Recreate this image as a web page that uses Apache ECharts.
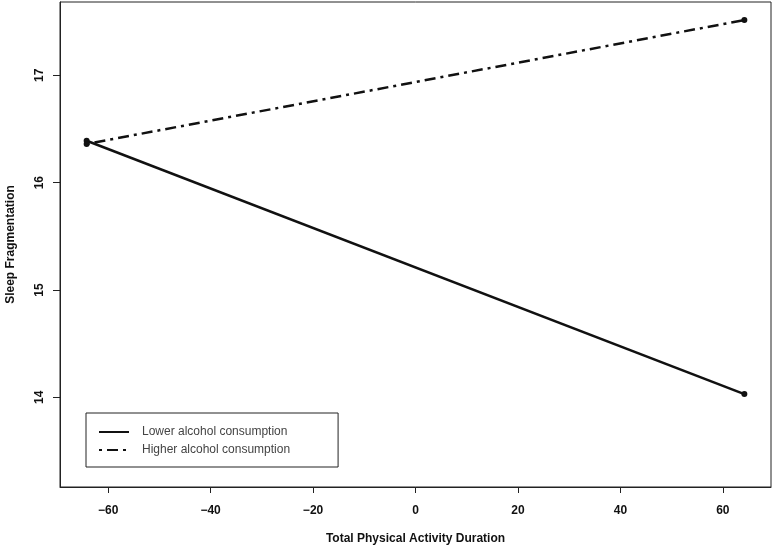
<!DOCTYPE html>
<html>
<head>
<meta charset="utf-8">
<script src="https://cdn.jsdelivr.net/npm/echarts@6/dist/echarts.min.js"></script>
<style>
  html, body { margin: 0; padding: 0; background: #fff; }
  #chart { width: 776px; height: 549px; }
</style>
</head>
<body>
<div id="chart"></div>
<script>
// values
const groups = ['Lower alcohol consumption', 'Higher alcohol consumption'];
const activity = [-64.2, 64.2];
const lowerFrag = [16.39, 14.03];
const higherFrag = [16.36, 17.515];
const xTicks = [-60, -40, -20, 0, 20, 40, 60];
const yTicks = [14, 15, 16, 17];

const font = '"Liberation Sans", Arial, Helvetica, sans-serif';

function fmtNum(v) {
    return v < 0 ? '\u2212' + Math.abs(v) : String(v);
}

function getOption() {
    let option = {
        animation: false,
        backgroundColor: '#fff',
        textStyle: { fontFamily: font },
        grid: {
            show: true,
            left: 60,
            top: 2,
            right: 5,
            bottom: 62,
            borderColor: '#222',
            borderWidth: 1,
            containLabel: false,
            outerBoundsMode: 'none'
        },
        xAxis: {
            type: 'value',
            min: -69.4,
            max: 69.4,
            name: 'Total Physical Activity Duration',
            nameLocation: 'middle',
            nameGap: 46,
            nameTextStyle: { fontWeight: 'bold', fontSize: 12, color: '#111', fontFamily: font },
            axisLine: { show: true, onZero: false, lineStyle: { color: '#222', width: 1 } },
            axisTick: { show: true, length: 6, customValues: xTicks, lineStyle: { color: '#222' } },
            axisLabel: {
                customValues: xTicks,
                margin: 18,
                fontSize: 12,
                fontWeight: 'bold',
                color: '#111',
                fontFamily: font,
                formatter: fmtNum
            },
            splitLine: { show: false }
        },
        yAxis: {
            type: 'value',
            min: 13.164,
            max: 17.683,
            name: 'Sleep Fragmentation',
            nameLocation: 'middle',
            nameGap: 43,
            nameRotate: 90,
            nameTextStyle: { fontWeight: 'bold', fontSize: 12, color: '#111', fontFamily: font },
            axisLine: { show: true, onZero: false, lineStyle: { color: '#222', width: 1 } },
            axisTick: { show: true, length: 7, customValues: yTicks, lineStyle: { color: '#222' } },
            axisLabel: {
                customValues: yTicks,
                rotate: 90,
                margin: 14,
                fontSize: 12,
                fontWeight: 'bold',
                color: '#111',
                fontFamily: font
            },
            splitLine: { show: false }
        },
        legend: {
            orient: 'vertical',
            left: 86,
            top: 413,
            data: groups,
            itemWidth: 30,
            itemHeight: 14,
            itemGap: 6,
            padding: [13, 48, 11, 12],
            borderColor: '#222',
            borderWidth: 1,
            itemStyle: { opacity: 0 },
            textStyle: { fontSize: 12, color: '#444', fontFamily: font, padding: [0, 0, 0, 8] }
        }
    };
    option.series = [
        {
            name: groups[0],
            type: 'line',
            data: activity.map((x, i) => [x, lowerFrag[i]]),
            symbol: 'circle',
            symbolSize: 6,
            color: '#111',
            itemStyle: { color: '#111' },
            lineStyle: { color: '#111', width: 2.5, type: 'solid' }
        },
        {
            name: groups[1],
            type: 'line',
            data: activity.map((x, i) => [x, higherFrag[i]]),
            symbol: 'circle',
            symbolSize: 6,
            color: '#111',
            itemStyle: { color: '#111' },
            lineStyle: { color: '#111', width: 2.5, type: [3, 5, 11, 5] }
        }
    ];
    return option;
}

var myChart = echarts.init(document.getElementById('chart'));
myChart.setOption(getOption());
</script>
</body>
</html>
